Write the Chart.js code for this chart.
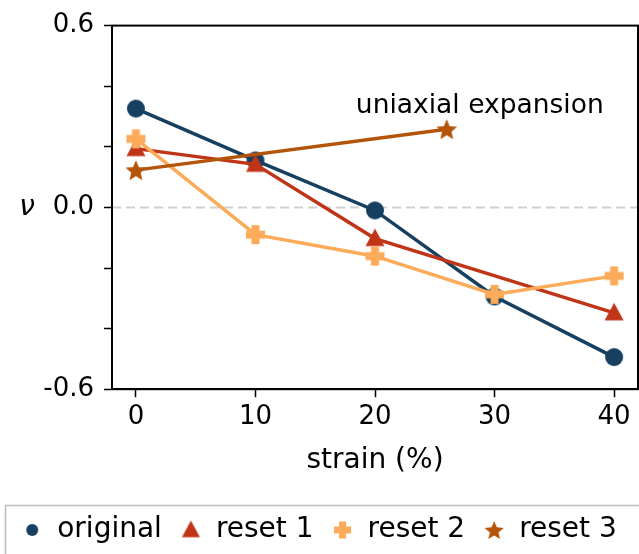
<!DOCTYPE html>
<html>
<head>
<meta charset="utf-8">
<script src="https://cdn.jsdelivr.net/npm/chart.js@4"></script>
<style>
  html, body { margin: 0; padding: 0; background: #fff; }
  #wrap { width: 639px; height: 554px; }
</style>
</head>
<body>
<div id="wrap"><canvas id="myChart" width="639" height="554"></canvas></div>
<script>
// dados
const strainOriginal = [0, 10, 20, 30, 40];
const nuOriginal = [0.326, 0.155, -0.01, -0.294, -0.494];
const strainReset1 = [0, 10, 20, 40];
const nuReset1 = [0.194, 0.142, -0.103, -0.348];
const strainReset2 = [0, 10, 20, 30, 40];
const nuReset2 = [0.226, -0.09, -0.161, -0.287, -0.226];
const strainReset3 = [0, 26];
const nuReset3 = [0.123, 0.258];
const xTicks = [0, 10, 20, 30, 40];
const yTicks = [-0.6, -0.4, -0.2, 0, 0.2, 0.4, 0.6];
const yTickLabels = [-0.6, 0.0, 0.6];
const seriesNames = ['original', 'reset 1', 'reset 2', 'reset 3'];

const colors = ['#173f5f', '#c03518', '#fbab59', '#b35409'];
const font = 'DejaVu Sans';

// marcadores desenhados num canvas (estrela e cruz cheias)
function marker(shape, color, r) {
  const c = document.createElement('canvas');
  const s = Math.ceil(2 * r + 2);
  c.width = s; c.height = s;
  const g = c.getContext('2d');
  const m = s / 2;
  g.fillStyle = color;
  g.beginPath();
  if (shape === 'circle') {
    g.arc(m, m, r, 0, Math.PI * 2);
  } else if (shape === 'triangle') {
    g.moveTo(m, m - r);
    g.lineTo(m + r * 0.95, m + r * 0.75);
    g.lineTo(m - r * 0.95, m + r * 0.75);
  } else if (shape === 'plus') {
    const a = r * 0.42;
    g.moveTo(m - a, m - r); g.lineTo(m + a, m - r); g.lineTo(m + a, m - a);
    g.lineTo(m + r, m - a); g.lineTo(m + r, m + a); g.lineTo(m + a, m + a);
    g.lineTo(m + a, m + r); g.lineTo(m - a, m + r); g.lineTo(m - a, m + a);
    g.lineTo(m - r, m + a); g.lineTo(m - r, m - a); g.lineTo(m - a, m - a);
  } else if (shape === 'star') {
    for (let i = 0; i < 10; i++) {
      const rr = i % 2 === 0 ? r : r * 0.45;
      const ang = -Math.PI / 2 + i * Math.PI / 5;
      const px = m + rr * Math.cos(ang), py = m + 1 + rr * Math.sin(ang);
      if (i === 0) g.moveTo(px, py); else g.lineTo(px, py);
    }
  }
  g.closePath();
  g.fill();
  return c;
}

const shapes = ['circle', 'triangle', 'plus', 'star'];
const plotSizes = [9, 10, 9.5, 11];
const legendSizes = [6, 9.5, 8.5, 10];
const plotMarkers = shapes.map((s, i) => marker(s, colors[i], plotSizes[i]));
const legendMarkers = shapes.map((s, i) => marker(s, colors[i], legendSizes[i]));

function pts(xs, ys) { return xs.map((x, i) => ({ x: x, y: ys[i] })); }

const allX = [strainOriginal, strainReset1, strainReset2, strainReset3];
const allY = [nuOriginal, nuReset1, nuReset2, nuReset3];

// pointRadius pequeno: a imagem é desenhada no tamanho dela, e evita padding extra
const datasets = seriesNames.map((name, i) => ({
  label: name,
  data: pts(allX[i], allY[i]),
  borderColor: colors[i],
  backgroundColor: colors[i],
  borderWidth: 3.5,
  pointStyle: plotMarkers[i],
  pointRadius: 0.5,
  pointBorderWidth: 0,
  pointHoverRadius: 0.5,
  order: 3 - i,
  tension: 0
}));

// moldura completa, linha tracejada em 0 e texto
const extras = {
  id: 'extras',
  beforeDatasetsDraw(chart) {
    const { ctx, chartArea: a, scales } = chart;
    const y0 = scales.y.getPixelForValue(0);
    ctx.save();
    ctx.strokeStyle = '#d0d0d0';
    ctx.lineWidth = 2;
    ctx.setLineDash([9, 5]);
    ctx.beginPath();
    ctx.moveTo(a.left, y0); ctx.lineTo(a.right, y0);
    ctx.stroke();
    ctx.restore();
  },
  afterDraw(chart) {
    const { ctx, chartArea: a, scales } = chart;
    ctx.save();
    ctx.strokeStyle = '#000';
    ctx.lineWidth = 2;
    ctx.strokeRect(a.left, a.top, a.right - a.left, a.bottom - a.top);
    // texto anotado
    ctx.fillStyle = '#000';
    ctx.font = '26.5px "' + font + '"';
    ctx.textBaseline = 'middle';
    ctx.fillText('uniaxial expansion', scales.x.getPixelForValue(18.4), scales.y.getPixelForValue(0.335));
    // rótulo do eixo y
    ctx.font = 'italic 28px "' + font + '"';
    ctx.textAlign = 'center';
    ctx.fillText('\u03bd', 27, scales.y.getPixelForValue(0));
    // caixa da legenda
    ctx.strokeStyle = '#bdbdbd';
    ctx.lineWidth = 1.5;
    ctx.strokeRect(5.5, 505.5, 660, 80);
    ctx.restore();
  }
};

new Chart(document.getElementById('myChart'), {
  type: 'line',
  data: { datasets: datasets },
  plugins: [extras],
  options: {
    responsive: false,
    animation: false,
    layout: { padding: { top: 1, right: 1, left: 0, bottom: 0 } },
    plugins: {
      tooltip: { enabled: false },
      legend: {
        position: 'bottom',
        labels: {
          usePointStyle: true,
          pointStyleWidth: 22,
          color: '#000',
          font: { family: font, size: 28 },
          padding: 18,
          sort: (a, b) => a.datasetIndex - b.datasetIndex,
          generateLabels(chart) {
            const items = Chart.defaults.plugins.legend.labels.generateLabels(chart);
            items.forEach(it => { it.pointStyle = legendMarkers[it.datasetIndex]; });
            return items;
          }
        }
      }
    },
    scales: {
      x: {
        type: 'linear',
        min: -2,
        max: 42,
        ticks: { color: '#000', font: { family: font, size: 26 }, padding: 4, maxRotation: 0,
          callback: v => String(v) },
        afterBuildTicks: s => { s.ticks = xTicks.map(v => ({ value: v })); },
        afterFit: s => { s.paddingRight = 0; s.paddingLeft = 0; },
        grid: { drawOnChartArea: false, tickLength: 8, color: '#000', tickWidth: 1.5 },
        border: { color: '#000', width: 2 },
        title: { display: true, text: 'strain (%)', color: '#000', font: { family: font, size: 28 }, padding: { top: 8, bottom: 20 } }
      },
      y: {
        min: -0.6,
        max: 0.6,
        afterBuildTicks: s => { s.ticks = yTicks.map(v => ({ value: v })); },
        ticks: { color: '#000', font: { family: font, size: 26 }, padding: 10,
          callback: v => {
            const hit = yTickLabels.find(t => Math.abs(t - v) < 1e-6);
            return hit === undefined ? '' : hit.toFixed(1);
          } },
        afterFit: s => { s.width = 112; },
        grid: { drawOnChartArea: false, tickLength: 8, color: '#000', tickWidth: 1.5 },
        border: { color: '#000', width: 2 }
      }
    }
  }
});
</script>
</body>
</html>
